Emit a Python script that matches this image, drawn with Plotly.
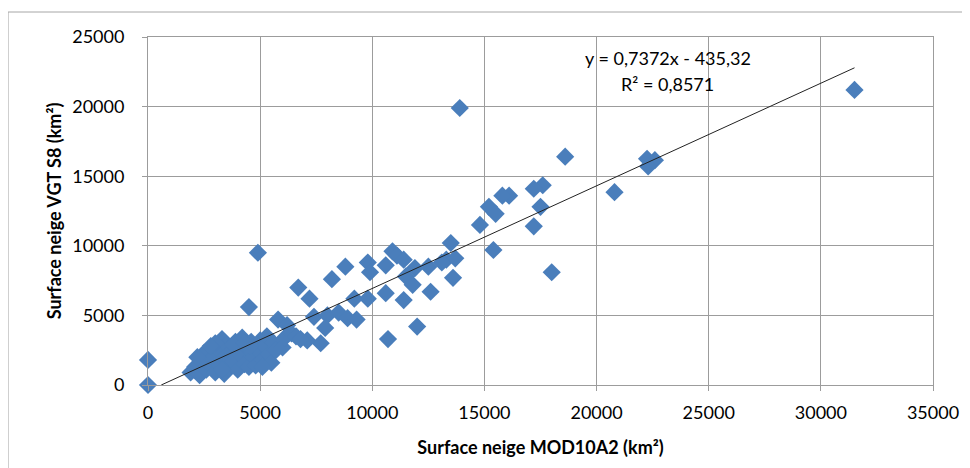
import plotly.graph_objects as go

# MOD10A2 snow area (x) vs VGT S8 snow area (y), km²
mod10a2 = [
    0, 0, 31500, 13900, 18600, 22250, 22600, 22300, 20800, 17600,
    17200, 16100, 15800, 17500, 15200, 15500, 14800, 17200, 13500, 15400,
    13300, 13700, 13100, 13600, 18000, 12500, 11900, 10900, 11100, 11400,
    10600, 11500, 11800, 12600, 11400, 10600, 12000, 10700, 9800, 9900,
    8800, 8200, 6700, 7200, 9200, 9800, 7400, 8000, 8500, 8900,
    9300, 7900, 7700, 7100, 4900, 4500, 5800, 6200,
    1900, 2100, 2300, 2400, 2500, 2600, 2700, 2900, 3000, 3100,
    3200, 3300, 3400, 3400, 3500, 3600, 3700, 3800, 3900, 4000,
    4100, 4200, 4300, 4400, 4500, 4600, 4700, 4800, 4900, 5000,
    5100, 5200, 5300, 5400, 5500, 5600, 5700, 6000, 6100, 6400,
    6600, 6800, 4550, 3000, 2200, 2800, 3300, 3800, 5100, 4300,
]
vgt_s8 = [
    0, 1800, 21200, 19900, 16400, 16250, 16150, 15700, 13850, 14350,
    14100, 13600, 13600, 12800, 12800, 12300, 11500, 11400, 10200, 9700,
    9000, 9100, 8800, 7700, 8100, 8500, 8400, 9600, 9300, 9000,
    8600, 7800, 7200, 6700, 6100, 6600, 4200, 3300, 8800, 8100,
    8500, 7600, 7000, 6200, 6200, 6200, 4900, 5000, 5200, 4800,
    4700, 4100, 3000, 3200, 9500, 5600, 4700, 4300,
    900, 1300, 700, 1800, 2300, 1100, 1600, 2000, 900, 2600,
    1400, 3300, 800, 2000, 2900, 1200, 2400, 1700, 3100, 1100,
    2200, 3400, 1500, 2700, 1300, 3100, 2000, 1400, 2500, 3200,
    1800, 2800, 3500, 2200, 1600, 3000, 2500, 2700, 3400, 3700,
    3500, 3300, 2800, 3000, 2000, 2800, 1100, 2900, 1300, 3000,
]

slope = 0.7372
intercept = -435.32
r2 = 0.8571

x_ticks = [0, 5000, 10000, 15000, 20000, 25000, 30000, 35000]
y_ticks = [0, 5000, 10000, 15000, 20000, 25000]

x_title = "Surface neige MOD10A2 (km²)"
y_title = "Surface neige VGT S8 (km²)"

FONT = "Lato, 'Open Sans', sans-serif"
GRID = "#9c9c9c"
BLUE = "#4a7ebb"

fig = go.Figure()

fig.add_trace(go.Scatter(
    x=mod10a2, y=vgt_s8, mode="markers",
    marker=dict(symbol="diamond", size=14, color=BLUE, line=dict(width=0)),
    cliponaxis=False, showlegend=False, hoverinfo="x+y",
))

# Linear trendline (Excel style, clipped at y >= 0)
x_start = -intercept / slope
x_end = max(mod10a2)
fig.add_trace(go.Scatter(
    x=[x_start, x_end], y=[slope * x_start + intercept, slope * x_end + intercept],
    mode="lines", line=dict(color="#222222", width=1), showlegend=False,
    hoverinfo="skip",
))

def fmt(v):
    return f"{v:.4f}".replace(".", ",")

eq = f"y = {fmt(slope)}x - {abs(intercept):.2f}".replace(".", ",")
fig.add_annotation(text=eq, xref="paper", yref="paper", x=0.662, y=0.94,
                   xanchor="center", yanchor="middle",
                   showarrow=False, font=dict(family=FONT, size=18, color="#000"))
fig.add_annotation(text=f"R² = {fmt(r2)}", xref="paper", yref="paper", x=0.662, y=0.865,
                   xanchor="center", yanchor="middle",
                   showarrow=False, font=dict(family=FONT, size=18, color="#000"))

# Outer chart frame (partially visible)
frame = "#a6a6a6"
fig.add_shape(type="line", xref="paper", yref="paper", x0=-0.1783, x1=1.06, y0=1.0718, y1=1.0718,
              line=dict(color=frame, width=1))
fig.add_shape(type="line", xref="paper", yref="paper", x0=-0.1783, x1=-0.1783, y0=1.0718, y1=-0.25,
              line=dict(color=frame, width=1))

axis_common = dict(
    showgrid=True, gridcolor=GRID, gridwidth=1,
    showline=True, linecolor=GRID, linewidth=1, mirror=True,
    ticks="outside", ticklen=5, tickcolor=GRID,
    zeroline=False, automargin=False,
    tickfont=dict(family=FONT, size=18, color="#000"),
)

# page body adds an 8px offset, so the figure is 962x460 with compensated margins
fig.update_layout(
    width=962, height=460,
    margin=dict(l=140, r=37, t=29, b=83, autoexpand=False),
    paper_bgcolor="white", plot_bgcolor="white",
    xaxis=dict(range=[0, 35000], tickvals=x_ticks, ticktext=[str(v) for v in x_ticks],
               title=dict(text=f"<b>{x_title}</b>", font=dict(family=FONT, size=18, color="#000"), standoff=19),
               ticklabelstandoff=6, **axis_common),
    yaxis=dict(range=[0, 25000], tickvals=y_ticks, ticktext=[str(v) for v in y_ticks],
               title=dict(text=f"<b>{y_title}</b>", font=dict(family=FONT, size=18, color="#000"), standoff=5),
               ticklabelstandoff=14, **axis_common),
)

fig.write_html("out.html")
